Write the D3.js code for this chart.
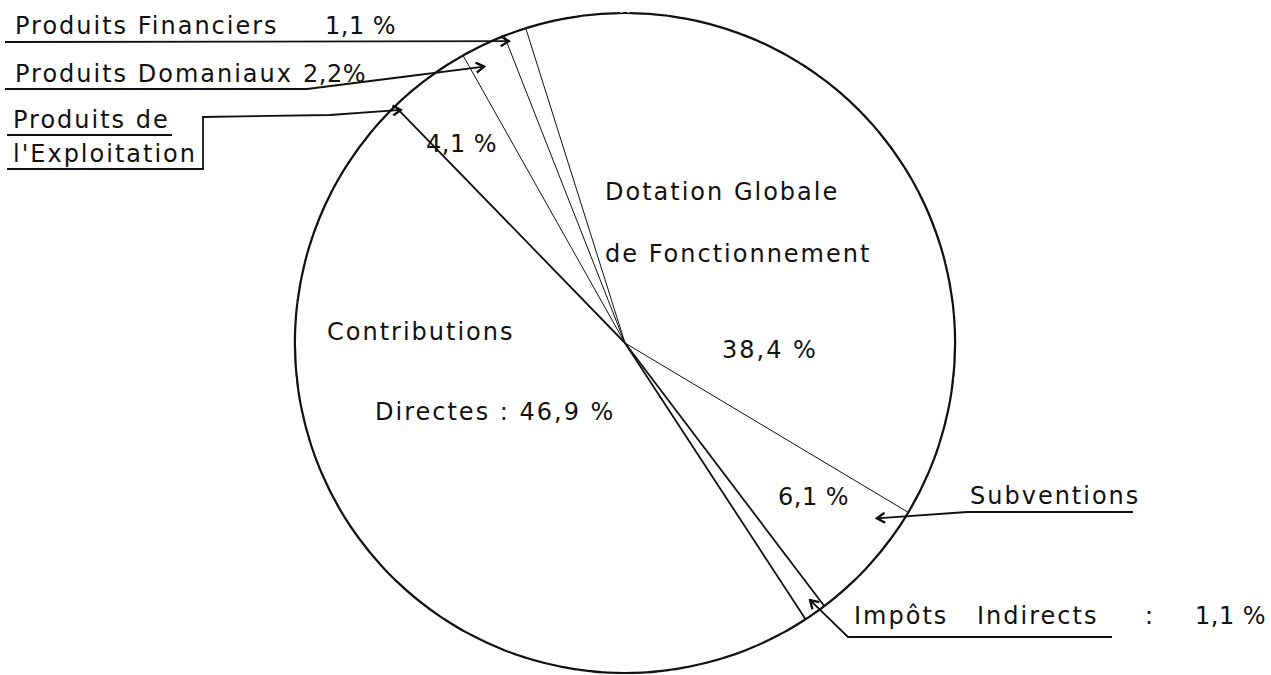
<!DOCTYPE html>
<html>
<head>
<meta charset="utf-8">
<script src="https://cdn.jsdelivr.net/npm/d3@7"></script>
<style>
  body { margin: 0; background: #fff; }
  text { font-family: "DejaVu Sans", sans-serif; fill: #111; letter-spacing: 2px; }
  text.pct { letter-spacing: 0.5px; }
</style>
</head>
<body>
<svg id="chart" width="1271" height="675"></svg>
<script>
// slices, clockwise from the top
var categories = ["Dotation Globale de Fonctionnement", "Subventions", "Impôts Indirects",
                  "Contributions Directes", "Produits de l'Exploitation", "Produits Domaniaux",
                  "Produits Financiers"];
var values = [38.4, 6.1, 1.1, 46.9, 4.1, 2.2, 1.1];
var valueLabels = ["38,4 %", "6,1 %", "1,1 %", "46,9 %", "4,1 %", "2,2%", "1,1 %"];

var width = 1271, height = 675;
var cx = 625, cy = 343, radius = 330;

var svg = d3.select("#chart");
var g = svg.append("g").attr("transform", "translate(" + cx + "," + cy + ")");

var start = -17.5 * Math.PI / 180;
var pie = d3.pie()
  .value(function(d) { return d; })
  .sort(null)
  .startAngle(start)
  .endAngle(start + 2 * Math.PI);

var arcs = pie(values);

// thicker spokes around Contributions Directes
var thick = [2, 3, 4];

g.selectAll("line.spoke")
  .data(arcs)
  .enter().append("line")
  .attr("class", "spoke")
  .attr("x1", 0).attr("y1", 0)
  .attr("x2", function(d) { return radius * Math.sin(d.startAngle); })
  .attr("y2", function(d) { return -radius * Math.cos(d.startAngle); })
  .attr("stroke", "#111")
  .attr("stroke-width", function(d, i) { return thick.indexOf(i) >= 0 ? 1.8 : 1; });

g.append("path")
  .attr("d", d3.arc().innerRadius(radius).outerRadius(radius)({startAngle: 0, endAngle: 2 * Math.PI}))
  .attr("fill", "none")
  .attr("stroke", "#111")
  .attr("stroke-width", 2.2)
  .attr("stroke-dasharray", "38 3 14 2 60 4 22 2");

// point on a slice: f = fraction across the slice, k = fraction of radius
function tip(i, f, k) {
  var a = arcs[i].startAngle + f * (arcs[i].endAngle - arcs[i].startAngle);
  return [cx + k * radius * Math.sin(a), cy - k * radius * Math.cos(a)];
}

svg.append("defs").append("marker")
  .attr("id", "arr")
  .attr("viewBox", "-10 -6 12 12")
  .attr("refX", 0).attr("refY", 0)
  .attr("markerWidth", 12).attr("markerHeight", 12)
  .attr("markerUnits", "userSpaceOnUse")
  .attr("orient", "auto")
  .append("path")
  .attr("d", "M-8,-5 L0,0 L-8,5")
  .attr("fill", "none")
  .attr("stroke", "#111")
  .attr("stroke-width", 2.4);

var line = d3.line();
function leader(pts, arrow) {
  svg.append("path")
    .attr("d", line(pts))
    .attr("fill", "none")
    .attr("stroke", "#111")
    .attr("stroke-width", 1.8)
    .attr("marker-end", arrow ? "url(#arr)" : null);
}
function label(x, y, t, cls) {
  svg.append("text").attr("x", x).attr("y", y)
    .attr("class", cls || null)
    .style("font-size", "24px").text(t);
}

// Produits Financiers
label(15, 34, "Produits Financiers");
label(325, 34, valueLabels[6], "pct");
leader([[5, 42], tip(6, 0.1, 0.98)], true);

// Produits Domaniaux
label(15, 82, "Produits Domaniaux");
label(303, 82, valueLabels[5], "pct");
leader([[5, 89], [307, 89], [410, 76], tip(5, 0.3, 0.94)], true);

// Produits de l'Exploitation
label(13, 128, "Produits de");
label(13, 162, "l'Exploitation");
leader([[7, 135], [172, 135]], false);
leader([[7, 169], [203, 169], [203, 117], [330, 115], tip(4, 0.02, 0.98)], true);
label(426, 152, valueLabels[4], "pct");

// Dotation Globale de Fonctionnement
label(605, 200, "Dotation Globale");
label(605, 262, "de Fonctionnement");
label(722, 358, valueLabels[0]);

// Contributions Directes
label(327, 340, "Contributions");
label(375, 420, "Directes : " + valueLabels[3]);

// Subventions
label(778, 505, valueLabels[1], "pct");
label(970, 504, "Subventions");
leader([[1133, 512], [967, 512], tip(1, 0.18, 0.93)], true);

// Impots Indirects
label(854, 624, "Impôts");
label(977, 624, "Indirects");
label(1145, 624, ":");
label(1195, 624, valueLabels[2], "pct");
leader([[1112, 637], [848, 637], tip(2, 0.35, 0.96)], true);
</script>
</body>
</html>
